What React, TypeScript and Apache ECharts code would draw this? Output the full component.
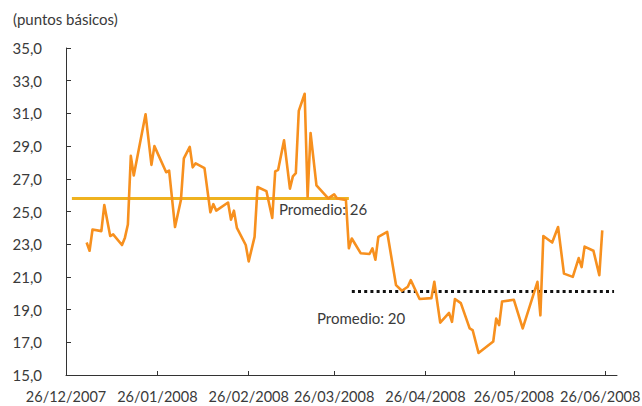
import React, { useEffect, useRef } from "react";
import * as echarts from "echarts";

// Axis calendar bounds and tick dates
const axisStart = "26/12/2007";
const axisEnd = "30/06/2008";
const tickDates = ["26/12/2007", "26/01/2008", "26/02/2008", "26/03/2008", "26/04/2008", "26/05/2008", "26/06/2008"];

// Y axis
const yMin = 15;
const yMax = 35;
const yStep = 2;

// Spread series (puntos básicos)
const dates = [
  "02/01/2008", "03/01/2008", "04/01/2008", "07/01/2008", "08/01/2008", "10/01/2008", "11/01/2008",
  "14/01/2008", "15/01/2008", "16/01/2008", "17/01/2008", "18/01/2008", "22/01/2008", "24/01/2008",
  "25/01/2008", "29/01/2008", "30/01/2008", "01/02/2008", "03/02/2008", "04/02/2008", "06/02/2008",
  "07/02/2008", "08/02/2008", "11/02/2008", "13/02/2008", "14/02/2008", "15/02/2008", "19/02/2008",
  "20/02/2008", "21/02/2008", "22/02/2008", "25/02/2008", "26/02/2008", "28/02/2008", "29/02/2008",
  "03/03/2008", "05/03/2008", "06/03/2008", "07/03/2008", "09/03/2008", "11/03/2008", "12/03/2008",
  "13/03/2008", "14/03/2008", "16/03/2008", "17/03/2008", "18/03/2008", "20/03/2008", "24/03/2008",
  "26/03/2008", "27/03/2008", "30/03/2008", "31/03/2008", "01/04/2008", "04/04/2008", "07/04/2008",
  "08/04/2008", "09/04/2008", "10/04/2008", "13/04/2008", "16/04/2008", "18/04/2008", "20/04/2008",
  "21/04/2008", "24/04/2008", "28/04/2008", "29/04/2008", "01/05/2008", "04/05/2008", "05/05/2008",
  "06/05/2008", "08/05/2008", "11/05/2008", "12/05/2008", "14/05/2008", "19/05/2008", "20/05/2008",
  "21/05/2008", "22/05/2008", "26/05/2008", "29/05/2008", "03/06/2008", "04/06/2008", "05/06/2008",
  "08/06/2008", "10/06/2008", "12/06/2008", "15/06/2008", "17/06/2008", "18/06/2008", "19/06/2008",
  "22/06/2008", "24/06/2008", "25/06/2008",
];
const values = [
  23.1, 22.6, 23.9, 23.8, 25.4, 23.5, 23.6,
  22.95, 23.4, 24.2, 28.4, 27.2, 30.95, 27.85,
  29.0, 27.4, 27.5, 24.05, 25.7, 28.25, 28.95,
  27.7, 27.95, 27.65, 24.95, 25.45, 25.05, 25.55,
  24.5, 25.05, 24.0, 22.95, 21.95, 23.45, 26.5,
  26.25, 24.6, 27.45, 27.55, 29.35, 26.4, 27.15,
  27.35, 31.15, 32.2, 25.9, 29.8, 26.6, 25.8,
  26.05, 25.8, 25.7, 22.75, 23.35, 22.45, 22.4,
  22.75, 22.05, 23.45, 23.75, 20.5, 20.15, 20.4,
  20.8, 19.65, 19.7, 20.7, 18.2, 18.8, 18.25,
  19.65, 19.4, 17.85, 17.75, 16.35, 17.05, 18.45,
  18.05, 19.5, 19.6, 17.85, 20.7, 18.65, 23.5,
  23.1, 24.05, 21.2, 21.0, 22.15, 21.6, 22.85,
  22.6, 21.1, 23.85,
];

// Averages
const avgHighRange = ["28/12/2007", "31/03/2008"];
const avgHighValue = 25.8;
const avgLowRange = ["01/04/2008", "29/06/2008"];
const avgLowValue = 20.1;

const avgHighLabel = "Promedio: 26";
const avgLowLabel = "Promedio: 20";
const yAxisTitle = "(puntos básicos)";

function parseDate(s: string): Date {
  const [d, m, y] = s.split("/").map(Number);
  return new Date(Date.UTC(y, m - 1, d));
}
function fmt(d: Date): string {
  const dd = String(d.getUTCDate()).padStart(2, "0");
  const mm = String(d.getUTCMonth() + 1).padStart(2, "0");
  return `${dd}/${mm}/${d.getUTCFullYear()}`;
}

export default function App() {
  const ref = useRef<HTMLDivElement>(null);

  useEffect(() => {
    if (!ref.current) return;
    const chart = echarts.init(ref.current, null, { renderer: "svg" });

    const cats: string[] = [];
    const start = parseDate(axisStart).getTime();
    const end = parseDate(axisEnd).getTime();
    for (let t = start; t <= end; t += 86400000) cats.push(fmt(new Date(t)));
    const idx = new Map<string, number>();
    cats.forEach((c, i) => idx.set(c, i));
    const tickSet = new Set(tickDates.map((d) => idx.get(d)));
    const lastTick = tickDates[tickDates.length - 1];

    const mainData: (number | null)[] = cats.map(() => null);
    dates.forEach((d, i) => {
      const k = idx.get(d);
      if (k !== undefined) mainData[k] = values[i];
    });
    const rangeData = (range: string[], v: number) => {
      const arr: (number | null)[] = cats.map(() => null);
      range.forEach((d) => {
        const k = idx.get(d);
        if (k !== undefined) arr[k] = v;
      });
      return arr;
    };

    const font = "Lato, 'Noto Sans', sans-serif";
    const textColor = "#3a3a3a";

    chart.setOption({
      animation: false,
      title: {
        text: yAxisTitle,
        left: 8,
        top: 6,
        textStyle: { fontFamily: font, fontSize: 15, fontWeight: "normal", color: textColor },
      },
      grid: { left: 66, right: 25, top: 48, bottom: 31, containLabel: false, outerBoundsMode: "none" },
      xAxis: {
        type: "category",
        data: cats,
        boundaryGap: false,
        axisLine: { lineStyle: { color: "#333", width: 1 } },
        axisTick: {
          inside: true,
          length: 4,
          interval: (i: number) => tickSet.has(i),
          lineStyle: { color: "#333" },
        },
        axisLabel: {
          interval: (i: number) => tickSet.has(i),
          margin: 14,
          fontFamily: font,
          fontSize: 14.5,
          color: textColor,
          hideOverlap: false,
          formatter: (v: string) => (v === lastTick ? `{last|${v}}` : v),
          rich: {
            last: {
              fontFamily: font,
              fontSize: 14.5,
              color: textColor,
              padding: [0, 10, 0, 0],
            },
          },
        },
        splitLine: { show: false },
      },
      yAxis: {
        type: "value",
        min: yMin,
        max: yMax,
        interval: yStep,
        axisLine: { show: true, lineStyle: { color: "#333", width: 1 } },
        axisTick: { show: true, inside: true, length: 5, lineStyle: { color: "#333" } },
        axisLabel: {
          margin: 24,
          fontFamily: font,
          fontSize: 15,
          color: textColor,
          formatter: (v: number) => v.toFixed(1).replace(".", ","),
        },
        splitLine: { show: false },
      },
      series: [
        {
          type: "line",
          data: rangeData(avgHighRange, avgHighValue),
          connectNulls: true,
          showSymbol: false,
          symbol: "none",
          lineStyle: { color: "#EFB21F", width: 3 },
          z: 1,
        },
        {
          type: "line",
          data: rangeData(avgLowRange, avgLowValue),
          connectNulls: true,
          showSymbol: false,
          symbol: "none",
          lineStyle: { color: "#111", width: 3, type: [3, 3.2] },
          z: 1,
        },
        {
          type: "line",
          data: mainData,
          connectNulls: true,
          showSymbol: false,
          symbol: "none",
          lineStyle: { color: "#F7901E", width: 2.6, join: "round" },
          z: 3,
        },
      ],
      graphic: [
        {
          type: "text",
          left: 279,
          top: 201,
          style: { text: avgHighLabel, font: `15px ${font}`, fill: textColor },
          z: 10,
        },
        {
          type: "text",
          left: 317,
          top: 310,
          style: { text: avgLowLabel, font: `15px ${font}`, fill: textColor },
          z: 10,
        },
      ],
    });

    return () => chart.dispose();
  }, []);

  return (
    <div
      ref={ref}
      style={{ position: "fixed", left: 0, top: 0, width: 642, height: 406, background: "#fff" }}
    />
  );
}
